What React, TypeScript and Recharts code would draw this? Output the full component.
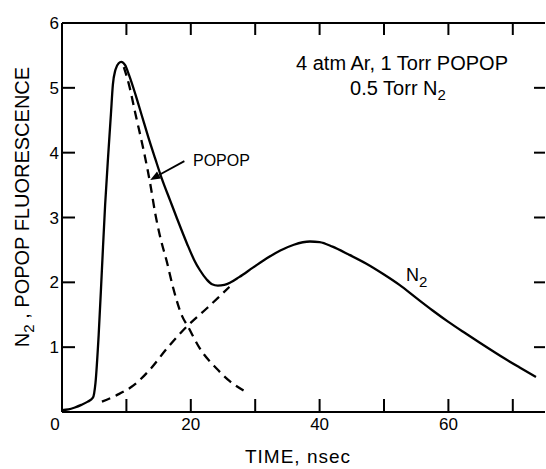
import { LineChart, Line, XAxis, YAxis, ReferenceLine } from 'recharts';

const FONT = '"Liberation Sans", Arial, sans-serif';

// total fluorescence (solid)
const totalCurve = [
  { t: 0, v: 0.03 }, { t: 1, v: 0.04 }, { t: 2, v: 0.07 }, { t: 3, v: 0.11 }, { t: 4, v: 0.16 },
  { t: 4.8, v: 0.22 }, { t: 5.2, v: 0.45 }, { t: 5.7, v: 1.2 }, { t: 6.2, v: 2.2 }, { t: 6.7, v: 3.2 },
  { t: 7.2, v: 4.0 }, { t: 7.6, v: 4.6 }, { t: 7.9, v: 5.05 }, { t: 8.3, v: 5.28 }, { t: 8.8, v: 5.38 },
  { t: 9.2, v: 5.4 }, { t: 9.8, v: 5.35 }, { t: 10.4, v: 5.2 }, { t: 11.4, v: 4.9 }, { t: 12.4, v: 4.57 },
  { t: 13.4, v: 4.24 }, { t: 14.5, v: 3.9 }, { t: 15.5, v: 3.6 }, { t: 16.8, v: 3.26 }, { t: 17.8, v: 3.0 },
  { t: 19.4, v: 2.6 }, { t: 20.5, v: 2.35 }, { t: 21.4, v: 2.19 }, { t: 22.5, v: 2.04 }, { t: 23.3, v: 1.97 },
  { t: 24.2, v: 1.95 }, { t: 25.2, v: 1.96 }, { t: 26.2, v: 2.0 }, { t: 27.5, v: 2.08 }, { t: 29.7, v: 2.23 },
  { t: 31.8, v: 2.37 }, { t: 33.9, v: 2.49 },
  { t: 36, v: 2.58 }, { t: 38.5, v: 2.63 }, { t: 40, v: 2.62 }, { t: 42, v: 2.55 }, { t: 44.5, v: 2.43 },
  { t: 47.2, v: 2.29 }, { t: 50, v: 2.12 }, { t: 52.4, v: 1.96 }, { t: 55, v: 1.76 }, { t: 57.5, v: 1.57 },
  { t: 60, v: 1.39 }, { t: 62.7, v: 1.21 }, { t: 65, v: 1.06 }, { t: 68.8, v: 0.82 }, { t: 71, v: 0.69 },
  { t: 73.6, v: 0.54 },
];

// POPOP component (dashed, decaying)
const popopCurve = [
  { t: 9.6, v: 5.32 }, { t: 10.4, v: 5.05 }, { t: 11.4, v: 4.6 }, { t: 12.9, v: 3.93 }, { t: 13.7, v: 3.52 },
  { t: 14.5, v: 3.05 }, { t: 15.2, v: 2.72 }, { t: 16.3, v: 2.31 }, { t: 17.3, v: 1.9 }, { t: 18.6, v: 1.49 },
  { t: 19.6, v: 1.31 }, { t: 21.4, v: 0.98 }, { t: 24, v: 0.67 }, { t: 26, v: 0.48 }, { t: 28.4, v: 0.32 },
];

// N2 component (dashed, rising)
const n2Curve = [
  { t: 6.2, v: 0.16 }, { t: 8.5, v: 0.26 }, { t: 11.1, v: 0.41 }, { t: 13.7, v: 0.66 }, { t: 16.3, v: 0.98 },
  { t: 19.5, v: 1.33 }, { t: 22.5, v: 1.6 }, { t: 26, v: 1.93 },
];

const xTicks = [0, 10, 20, 30, 40, 50, 60, 70];
const xLabels = [0, 20, 40, 60];
const yTicks = [1, 2, 3, 4, 5, 6];
const yInnerTicks = [1, 2, 3, 4, 5];

const arrowFrom = { t: 19.0, v: 3.87 };
const arrowTo = { t: 13.7, v: 3.58 };

const TICK = 13;

function BottomTick({ x, y, payload }: any) {
  const v = payload.value;
  return (
    <g>
      {v !== 0 && <line x1={x} y1={y} x2={x} y2={y - TICK} stroke="#000" strokeWidth={2} />}
      {xLabels.includes(v) && (
        <text x={x + (v === 0 ? -7 : 0)} y={y + 18} textAnchor="middle" fontSize={17} fontFamily={FONT} fill="#000">
          {v}
        </text>
      )}
    </g>
  );
}

function TopTick({ x, y, payload }: any) {
  if (payload.value === 0) return <g />;
  return <line x1={x} y1={y} x2={x} y2={y + TICK - 1} stroke="#000" strokeWidth={2} />;
}

function LeftTick({ x, y, payload }: any) {
  const v = payload.value;
  return (
    <g>
      {yInnerTicks.includes(v) && <line x1={x} y1={y} x2={x + TICK} y2={y} stroke="#000" strokeWidth={2} />}
      <text x={x - 3} y={y + 6} textAnchor="end" fontSize={17} fontFamily={FONT} fill="#000">
        {v}
      </text>
    </g>
  );
}

function RightTick({ x, y, payload }: any) {
  if (!yInnerTicks.includes(payload.value)) return <g />;
  return <line x1={x} y1={y} x2={x - TICK + 2} y2={y} stroke="#000" strokeWidth={2} />;
}

function Arrow(props: any) {
  const { x1, y1, x2, y2 } = props;
  const a = Math.atan2(y2 - y1, x2 - x1);
  const L = 10;
  const W = 4;
  const bx = x2 - L * Math.cos(a);
  const by = y2 - L * Math.sin(a);
  const px = -Math.sin(a) * W;
  const py = Math.cos(a) * W;
  return (
    <g>
      <line x1={x1} y1={y1} x2={bx} y2={by} stroke="#000" strokeWidth={1.8} />
      <polygon points={`${x2},${y2} ${bx + px},${by + py} ${bx - px},${by - py}`} fill="#000" />
    </g>
  );
}

export default function App() {
  return (
    <div style={{ position: 'absolute', left: 0, top: 0, width: 546, height: 469, background: '#fff' }}>
      <LineChart width={546} height={469} margin={{ top: 22, right: 0, bottom: 0, left: 0 }}>
        <XAxis
          dataKey="t" type="number" domain={[0, 75]} ticks={xTicks}
          height={57} tickSize={0} tickMargin={0} tickLine={false} tick={BottomTick}
          axisLine={{ stroke: '#000', strokeWidth: 2 }}
        />
        <XAxis
          xAxisId="top" dataKey="t" orientation="top" type="number" domain={[0, 75]} ticks={xTicks}
          height={1} tickSize={0} tickMargin={0} tickLine={false} tick={TopTick}
          axisLine={{ stroke: '#000', strokeWidth: 2 }}
        />
        <YAxis
          dataKey="v" type="number" domain={[0, 6]} ticks={yTicks} width={62}
          tickSize={0} tickMargin={0} tickLine={false} tick={LeftTick}
          axisLine={{ stroke: '#000', strokeWidth: 2 }}
        />
        <YAxis
          yAxisId="right" dataKey="v" orientation="right" type="number" domain={[0, 6]} ticks={yTicks} width={1}
          tickSize={0} tickMargin={0} tickLine={false} tick={RightTick} axisLine={false}
        />
        {/* invisible series binding the frame axes (top / right) */}
        <Line data={totalCurve} dataKey="v" xAxisId="top" yAxisId="right" stroke="none" dot={false} activeDot={false} isAnimationActive={false} />
        <Line data={totalCurve} dataKey="v" type="monotone" stroke="#000" strokeWidth={2.3} dot={false} isAnimationActive={false} />
        <Line data={popopCurve} dataKey="v" type="monotone" stroke="#000" strokeWidth={2.3} strokeDasharray="9 6" dot={false} isAnimationActive={false} />
        <Line data={n2Curve} dataKey="v" type="monotone" stroke="#000" strokeWidth={2.3} strokeDasharray="9 6" dot={false} isAnimationActive={false} />
        <ReferenceLine
          segment={[{ x: arrowFrom.t, y: arrowFrom.v }, { x: arrowTo.t, y: arrowTo.v }]}
          shape={Arrow} ifOverflow="visible"
        />
      </LineChart>
      <svg width={546} height={469} style={{ position: 'absolute', left: 0, top: 0, pointerEvents: 'none' }} fontFamily={FONT}>
        <text x={402} y={70} textAnchor="middle" fontSize={20}>4 atm Ar, 1 Torr POPOP</text>
        <text x={398} y={95} textAnchor="middle" fontSize={20}>
          0.5 Torr N<tspan fontSize={15} dy={5}>2</tspan>
        </text>
        <text x={193} y={166} fontSize={16}>POPOP</text>
        <text x={406} y={281} fontSize={18}>
          N<tspan fontSize={15} dy={6}>2</tspan>
        </text>
        <text transform="translate(29,207) rotate(-90)" textAnchor="middle" fontSize={20}>
          N<tspan fontSize={15} dy={5}>2</tspan><tspan dy={-5}> , POPOP FLUORESCENCE</tspan>
        </text>
        <text x={298} y={463} textAnchor="middle" fontSize={19} letterSpacing={1}>TIME, nsec</text>
      </svg>
    </div>
  );
}
